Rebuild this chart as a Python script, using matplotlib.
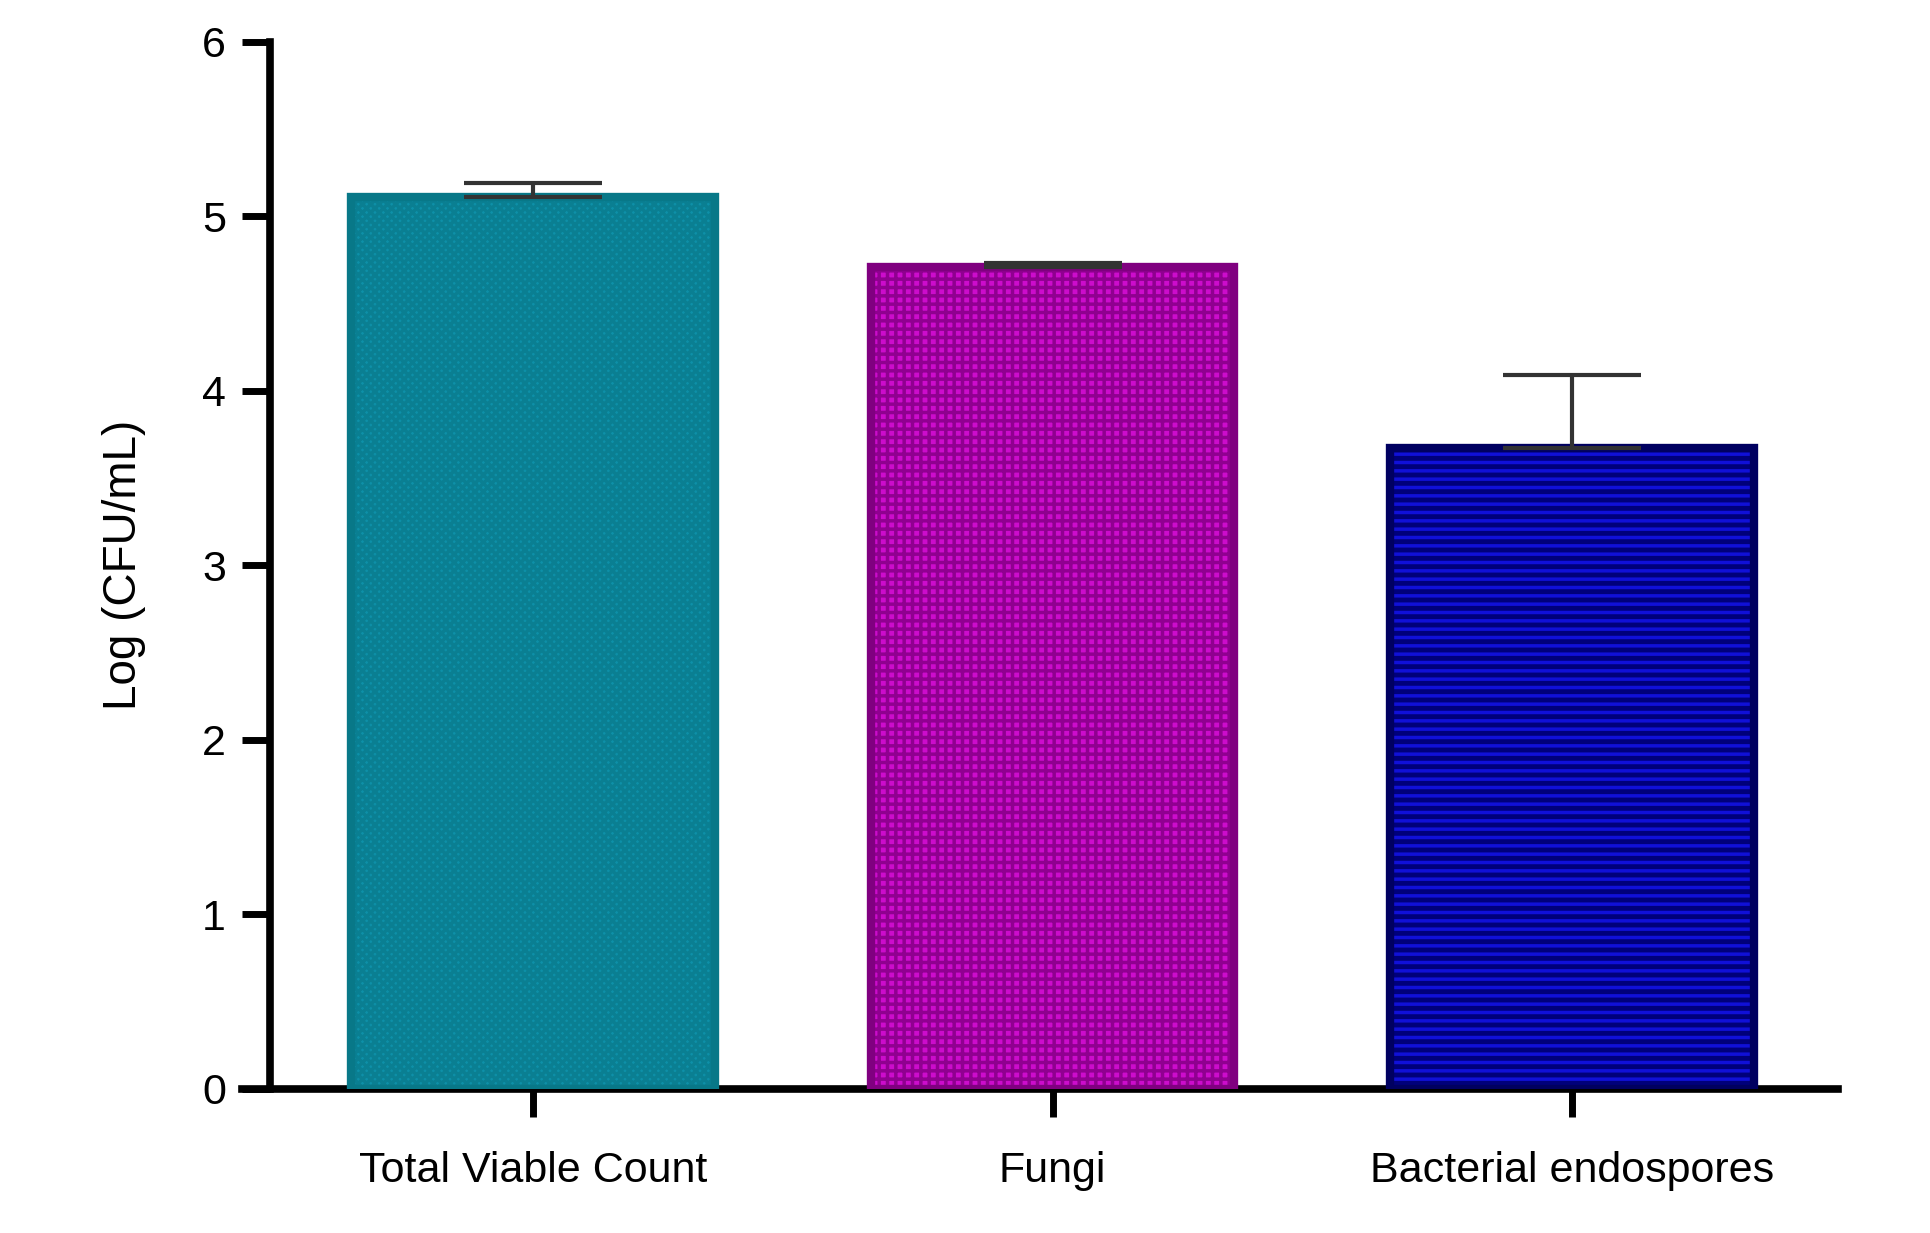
import matplotlib.pyplot as plt

plt.rcParams['font.family'] = ['Liberation Sans', 'DejaVu Sans']
plt.rcParams['hatch.linewidth'] = 2.5

categories = ["Total Viable Count", "Fungi", "Bacterial endospores"]
means = [5.11, 4.71, 3.67]
errors = [0.08, 0.02, 0.42]
face_colors = ["#0e90a8", "#cc0ccc", "#00007a"]
edge_colors = ["#087888", "#800080", "#000060"]
hatch_colors = ["#0a7f92", "#900090", "#1010d8"]
hatches = ["xxxx", "++", "--"]

fig = plt.figure(figsize=(19.31, 12.33), dpi=100)
ax = fig.add_axes([0.14, 0.117, 0.812, 0.849])

x = range(len(categories))
for i in x:
    ax.bar(i, means[i], width=0.7, color=face_colors[i], edgecolor=hatch_colors[i],
           hatch=hatches[i], linewidth=0, zorder=2)
    ax.bar(i, means[i], width=0.7, fill=False, edgecolor=edge_colors[i],
           linewidth=6, zorder=3)
    ax.errorbar(i, means[i], yerr=[[0], [errors[i]]], fmt="none", ecolor="#333333",
                elinewidth=3, capsize=50, capthick=3, zorder=4)

ax.set_xlim(-0.505, 2.512)
ax.set_ylim(0, 6)
ax.set_yticks(range(7))
ax.set_xticks(list(x))
ax.set_xticklabels(categories, fontsize=31)
ax.tick_params(axis="y", labelsize=31, width=5, length=20, pad=12)
ax.tick_params(axis="x", width=5, length=20, pad=25)
ax.set_ylabel("Log (CFU/mL)", fontsize=33, labelpad=40)
for s in ["top", "right"]:
    ax.spines[s].set_visible(False)
for s in ["left", "bottom"]:
    ax.spines[s].set_linewidth(5.5)
ax.spines["bottom"].set_bounds(-0.56, 2.512)

fig.savefig("out.png", dpi=100)
